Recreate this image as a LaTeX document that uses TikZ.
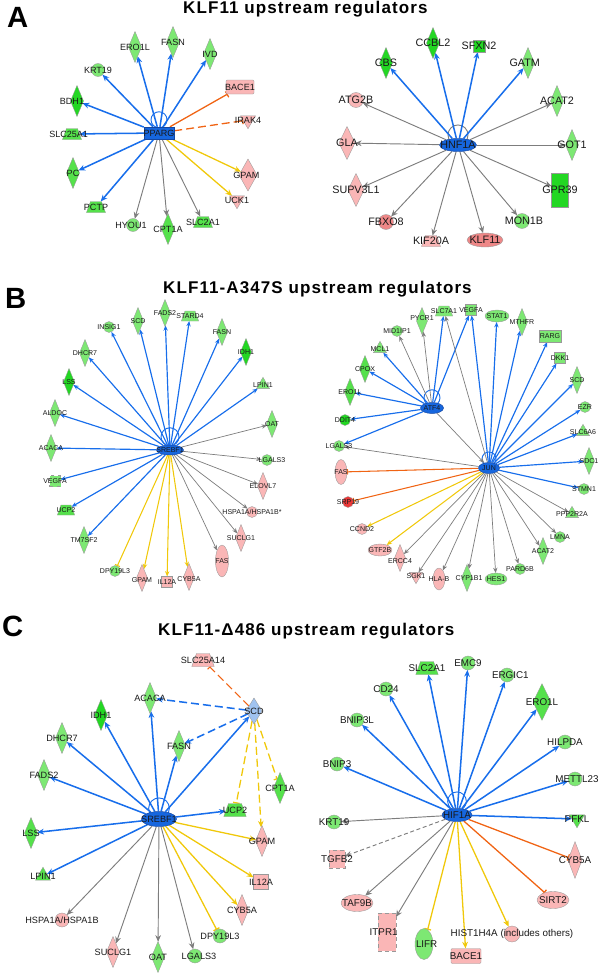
\documentclass[tikz,border=0pt]{standalone}
\usepackage{fontspec}
\setmainfont{Liberation Sans}
\newfontfamily\headfont[LetterSpace=6.5]{Liberation Sans}
\usetikzlibrary{arrows.meta, backgrounds, shapes.geometric, shapes.misc}
\definecolor{hubfill}{RGB}{22,102,222}
\definecolor{hubline}{RGB}{20,70,160}
\definecolor{actblue}{RGB}{24,110,235}
\definecolor{edgegray}{RGB}{125,125,125}
\definecolor{inhorange}{RGB}{240,100,20}
\definecolor{predyellow}{RGB}{240,200,10}
\definecolor{upgreen}{RGB}{125,232,115}
\definecolor{midgreen}{RGB}{85,225,75}
\definecolor{deepgreen}{RGB}{35,215,35}
\definecolor{downpink}{RGB}{250,182,182}
\definecolor{salmonpink}{RGB}{238,135,135}
\definecolor{downred}{RGB}{235,55,55}
\definecolor{paleblue}{RGB}{160,195,240}
\tikzset{
    gene/.style={draw=black!40, line width=0.3pt, inner sep=0pt, outer sep=0pt},
    dia/.style={gene, diamond, minimum width=3.9mm, minimum height=9.3mm},
    circ/.style={gene, circle, minimum size=3.9mm},
    oval/.style={gene, ellipse},
    trap/.style={gene, trapezium, inner sep=0.5pt, trapezium left angle=70, trapezium right angle=70,
        minimum width=3.9mm, minimum height=3.3mm},
    tri/.style={gene, isosceles triangle, inner sep=0.5pt, isosceles triangle apex angle=60,
        shape border rotate=90, minimum size=3.9mm},
    invtri/.style={tri, shape border rotate=270},
    box/.style={gene, rectangle, minimum size=3.6mm},
    dbox/.style={box, dashed},
    hexa/.style={gene, chamfered rectangle, inner sep=0.5pt, chamfered rectangle xsep=1.4mm,
        minimum width=8.4mm, minimum height=4.2mm},
    hub/.style={draw=hubline, line width=0.4pt, fill=hubfill, inner sep=0pt},
    headtip/.style={-{Stealth[length=2mm, width=1.7mm]}},
    bartip/.style={-{Bar[width=2mm]}},
    act/.style={draw=actblue, line width=1.3pt, headtip},
    neu/.style={draw=edgegray, line width=0.8pt, headtip},
    pred/.style={draw=predyellow, line width=1.1pt, headtip},
    predbar/.style={draw=predyellow, line width=1.1pt, bartip},
    inh/.style={draw=inhorange, line width=1.1pt, bartip},
    selfloop/.style={draw=actblue, line width=0.8pt},
    longdash/.style={dash pattern=on 2.4mm off 1.2mm},
    panelletter/.style={font=\bfseries\fontsize{25}{28}\selectfont, anchor=base west, inner sep=0pt},
    paneltitle/.style={font=\headfont\bfseries\fontsize{14.5}{17}\selectfont, anchor=base west, inner sep=0pt},
    every label/.style={inner sep=0pt, text=black!90}
}
\newcommand{\lblA}{\fontsize{7.7}{8}\selectfont}
\newcommand{\lblAR}{\fontsize{9.2}{10}\selectfont}
\newcommand{\lblB}{\fontsize{6}{7}\selectfont}
\newcommand{\lblC}{\fontsize{7.8}{9}\selectfont}
\newcommand{\lblCR}{\fontsize{8.4}{9}\selectfont}

\begin{document}
\begin{tikzpicture}[x=0.03cm, y=-0.03cm]
    \useasboundingbox (0,0) rectangle (600,977);

    % Panel A : KLF11
    \node[panelletter] (letA) at (7,27) {A};
    \node[paneltitle] (headA) at (183,13) {KLF11 upstream regulators};

    \begin{scope}[every label/.append style={font=\lblA}]
        % A left : PPARG
        \node[hub, rectangle, minimum width=9mm, minimum height=3.6mm, label={center:PPARG}] (al-pparg) at (159,133) {};
        \node[dia, fill=upgreen, label={center:ERO1L}] (al-ero1l) at (135,47) {};
        \node[dia, fill=upgreen, label={center:FASN}] (al-fasn) at (173,42) {};
        \node[dia, fill=upgreen, label={center:IVD}] (al-ivd) at (210,54) {};
        \node[circ, fill=upgreen, label={center:KRT19}] (al-krt19) at (98,70) {};
        \node[dia, fill=deepgreen, label={[xshift=-1.5mm]center:BDH1}] (al-bdh1) at (77,101) {};
        \node[trap, fill=midgreen, label={[xshift=-1mm]center:SLC25A1}] (al-slc25a1) at (72,134) {};
        \node[dia, fill=midgreen, label={center:PC}] (al-pc) at (73,173) {};
        \node[trap, fill=midgreen, label={center:PCTP}] (al-pctp) at (96,207) {};
        \node[circ, fill=upgreen, label={[xshift=-0.6mm]center:HYOU1}] (al-hyou1) at (133,225) {};
        \node[dia, fill=midgreen, label={center:CPT1A}] (al-cpt1a) at (168,229) {};
        \node[trap, fill=midgreen, label={center:SLC2A1}] (al-slc2a1) at (203,222) {};
        \node[hexa, fill=downpink, label={center:BACE1}] (al-bace1) at (240,87) {};
        \node[invtri, fill=downpink, label={center:IRAK4}] (al-irak4) at (248,120) {};
        \node[dia, fill=downpink, minimum width=5.4mm, minimum height=9.6mm, label={[xshift=-0.5mm]center:GPAM}] (al-gpam) at (248,175) {};
        \node[invtri, fill=downpink, label={center:UCK1}] (al-uck1) at (237,200) {};

        \begin{scope}[on background layer]
            \draw[selfloop] ([yshift=2.1mm]al-pparg.north) circle[radius=2.4mm];
            \foreach \g in {ero1l,fasn,ivd,krt19,bdh1,slc25a1,pc,pctp}
                \draw[act] (al-pparg) -- (al-\g);
            \foreach \g in {hyou1,cpt1a,slc2a1}
                \draw[neu] (al-pparg) -- (al-\g);
            \foreach \g in {gpam,uck1}
                \draw[pred] (al-pparg) -- (al-\g);
            \draw[inh] (al-pparg) -- (al-bace1);
            \draw[inh, longdash] (al-pparg) -- (al-irak4);
        \end{scope}
    \end{scope}

    \begin{scope}[every label/.append style={font=\lblAR}]
        % A right : HNF1A
        \node[hub, ellipse, minimum width=11.1mm, minimum height=3.9mm, label={center:HNF1A}] (ar-hnf1a) at (458,145) {};
        \node[dia, fill=deepgreen, label={center:CCBL2}] (ar-ccbl2) at (433,43) {};
        \node[box, fill=deepgreen, label={center:SFXN2}] (ar-sfxn2) at (479,46) {};
        \node[dia, fill=deepgreen, label={center:CBS}] (ar-cbs) at (386,63) {};
        \node[dia, fill=upgreen, label={[xshift=-1mm]center:GATM}] (ar-gatm) at (528,63) {};
        \node[circ, fill=downpink, minimum size=4.5mm, label={center:ATG2B}] (ar-atg2b) at (356,100) {};
        \node[dia, fill=upgreen, label={center:ACAT2}] (ar-acat2) at (557,101) {};
        \node[dia, fill=downpink, minimum width=4.8mm, minimum height=9.9mm, label={center:GLA}] (ar-gla) at (347,143) {};
        \node[dia, fill=upgreen, label={center:GOT1}] (ar-got1) at (572,145) {};
        \node[dia, fill=downpink, minimum width=4.8mm, minimum height=9.9mm, label={center:SUPV3L1}] (ar-supv3l1) at (356,190) {};
        \node[box, fill=deepgreen, minimum width=5.1mm, minimum height=10.2mm, label={center:GPR39}] (ar-gpr39) at (560,190) {};
        \node[circ, fill=salmonpink, minimum size=4.5mm, label={center:FBXO8}] (ar-fbxo8) at (386,222) {};
        \node[circ, fill=upgreen, minimum size=4.5mm, label={[xshift=0.6mm]center:MON1B}] (ar-mon1b) at (522,221) {};
        \node[trap, fill=downpink, label={center:KIF20A}] (ar-kif20a) at (431,241) {};
        \node[oval, fill=salmonpink, minimum width=10.8mm, minimum height=4.2mm, label={center:KLF11}] (ar-klf11) at (485,240) {};

        \begin{scope}[on background layer]
            \draw[selfloop, draw=edgegray] ([yshift=1mm]ar-hnf1a.north) circle[radius=3mm];
            \foreach \g in {cbs,ccbl2,sfxn2,gatm}
                \draw[act] (ar-hnf1a) -- (ar-\g);
            \foreach \g in {atg2b,gla,supv3l1,fbxo8,kif20a,klf11,mon1b,gpr39,got1,acat2}
                \draw[neu] (ar-hnf1a) -- (ar-\g);
        \end{scope}
    \end{scope}

    % Panel B : KLF11-A347S
    \node[panelletter] (letB) at (5,308) {B};
    \node[paneltitle] (headB) at (163,293) {KLF11-A347S upstream regulators};

    \begin{scope}[every label/.append style={font=\lblB},
        dia/.append style={minimum width=3.3mm, minimum height=8.1mm},
        circ/.append style={minimum size=3.3mm},
        box/.append style={minimum size=3.3mm},
        trap/.append style={minimum width=3.3mm, minimum height=3mm},
        tri/.append style={minimum size=3.4mm},
        headtip/.style={-{Stealth[length=1.6mm, width=1.3mm]}},
        bartip/.style={-{Bar[width=1.6mm]}},
        act/.append style={line width=1pt},
        neu/.append style={line width=0.6pt},
        pred/.append style={line width=0.9pt},
        predbar/.append style={line width=0.9pt},
        inh/.append style={line width=0.9pt}]

        % B left : SREBF1
        \node[hub, ellipse, minimum width=8.1mm, minimum height=3mm, label={center:SREBF1}] (bl-srebf1) at (170,450) {};
        \node[circ, fill=upgreen, label={center:INSIG1}] (bl-insig1) at (109,327) {};
        \node[dia, fill=upgreen, label={center:SCD}] (bl-scd) at (138,321) {};
        \node[dia, fill=upgreen, label={center:FADS2}] (bl-fads2) at (165,313) {};
        \node[trap, fill=upgreen, label={center:STARD4}] (bl-stard4) at (190,316) {};
        \node[dia, fill=upgreen, label={center:FASN}] (bl-fasn) at (222,332) {};
        \node[dia, fill=deepgreen, label={center:IDH1}] (bl-idh1) at (246,352) {};
        \node[dia, fill=upgreen, label={center:DHCR7}] (bl-dhcr7) at (85,353) {};
        \node[dia, fill=deepgreen, label={center:LSS}] (bl-lss) at (69,382) {};
        \node[tri, fill=upgreen, label={center:LPIN1}] (bl-lpin1) at (263,385) {};
        \node[dia, fill=upgreen, label={center:ALDOC}] (bl-aldoc) at (55,413) {};
        \node[dia, fill=upgreen, label={center:OAT}] (bl-oat) at (272,424) {};
        \node[dia, fill=upgreen, label={center:ACACA}] (bl-acaca) at (51,448) {};
        \node[circ, fill=upgreen, label={[xshift=1.5mm]center:LGALS3}] (bl-lgals3) at (267,460) {};
        \node[dbox, fill=upgreen, label={center:VEGFA}] (bl-vegfa) at (55,481) {};
        \node[dia, fill=downpink, label={center:ELOVL7}] (bl-elovl7) at (263,486) {};
        \node[trap, fill=midgreen, label={center:UCP2}] (bl-ucp2) at (66,510) {};
        \node[circ, fill=downpink, label={center:HSPA1A/HSPA1B*}] (bl-hspa) at (252,512) {};
        \node[dia, fill=upgreen, label={center:TM7SF2}] (bl-tm7sf2) at (84,540) {};
        \node[dia, fill=downpink, label={center:SUCLG1}] (bl-suclg1) at (241,538) {};
        \node[oval, fill=downpink, minimum width=3.9mm, minimum height=9.6mm, label={center:FAS}] (bl-fas) at (222,561) {};
        \node[circ, fill=upgreen, label={center:DPY19L3}] (bl-dpy19l3) at (115,571) {};
        \node[dia, fill=downpink, label={[yshift=-0.5mm]center:GPAM}] (bl-gpam) at (142,578) {};
        \node[box, fill=downpink, label={center:IL12A}] (bl-il12a) at (167,582) {};
        \node[dia, fill=downpink, label={[yshift=-0.5mm]center:CYB5A}] (bl-cyb5a) at (189,577) {};

        \begin{scope}[on background layer]
            \draw[selfloop] ([yshift=2.4mm]bl-srebf1.north) circle[radius=2.7mm];
            \foreach \g in {insig1,scd,fads2,stard4,fasn,idh1,dhcr7,lss,lpin1,aldoc,acaca,vegfa,ucp2,tm7sf2}
                \draw[act] (bl-srebf1) -- (bl-\g);
            \foreach \g in {oat,lgals3,elovl7,hspa,suclg1,fas}
                \draw[neu] (bl-srebf1) -- (bl-\g);
            \foreach \g in {gpam,il12a,cyb5a}
                \draw[pred] (bl-srebf1) -- (bl-\g);
            \draw[predbar] (bl-srebf1) -- (bl-dpy19l3);
        \end{scope}

        % B right : ATF4 and JUN
        \node[hub, ellipse, minimum width=6.9mm, minimum height=3.3mm, label={center:ATF4}] (br-atf4) at (432,408) {};
        \node[hub, ellipse, minimum width=6.3mm, minimum height=3.3mm, label={center:JUN}] (br-jun) at (489,468) {};
        \node[dia, fill=upgreen, label={[yshift=0.8mm]center:PYCR1}] (br-pycr1) at (422,321) {};
        \node[trap, fill=upgreen, label={center:SLC7A1}] (br-slc7a1) at (444,311) {};
        \node[box, fill=upgreen, label={center:VEGFA}] (br-vegfa) at (471,310) {};
        \node[oval, fill=upgreen, minimum width=7.2mm, minimum height=3.6mm, label={center:STAT1}] (br-stat1) at (497,316) {};
        \node[dia, fill=upgreen, label={center:MTHFR}] (br-mthfr) at (522,322) {};
        \node[circ, fill=upgreen, label={center:MID1IP1}] (br-mid1ip1) at (397,331) {};
        \node[box, fill=upgreen, minimum width=6.6mm, minimum height=3.6mm, label={center:RARG}] (br-rarg) at (550,336) {};
        \node[tri, fill=upgreen, label={center:MCL1}] (br-mcl1) at (380,349) {};
        \node[box, fill=upgreen, label={center:DKK1}] (br-dkk1) at (560,358) {};
        \node[dia, fill=midgreen, label={center:CPOX}] (br-cpox) at (365,369) {};
        \node[dia, fill=upgreen, label={center:SCD}] (br-scd) at (577,380) {};
        \node[dia, fill=midgreen, label={center:ERO1L}] (br-ero1l) at (350,392) {};
        \node[circ, fill=upgreen, label={center:EZR}] (br-ezr) at (585,407) {};
        \node[circ, fill=deepgreen, label={center:DDIT4}] (br-ddit4) at (345,420) {};
        \node[tri, fill=upgreen, label={center:SLC6A6}] (br-slc6a6) at (583,432) {};
        \node[circ, fill=upgreen, label={center:LGALS3}] (br-lgals3) at (339,446) {};
        \node[dia, fill=upgreen, label={center:SDC1}] (br-sdc1) at (589,461) {};
        \node[oval, fill=downpink, minimum width=3.6mm, minimum height=7.5mm, label={center:FAS}] (br-fas) at (341,472) {};
        \node[circ, fill=upgreen, label={center:STMN1}] (br-stmn1) at (584,489) {};
        \node[circ, fill=downred, label={center:SRP19}] (br-srp19) at (348,502) {};
        \node[tri, fill=upgreen, label={center:PPP2R2A}] (br-ppp2r2a) at (572,514) {};
        \node[circ, fill=downpink, label={center:CCND2}] (br-ccnd2) at (362,529) {};
        \node[circ, fill=upgreen, label={center:LMNA}] (br-lmna) at (560,537) {};
        \node[oval, fill=downpink, minimum width=7.2mm, minimum height=3.6mm, label={center:GTF2B}] (br-gtf2b) at (380,550) {};
        \node[dia, fill=upgreen, label={center:ACAT2}] (br-acat2) at (543,551) {};
        \node[dia, fill=downpink, label={[yshift=-0.8mm]center:ERCC4}] (br-ercc4) at (400,558) {};
        \node[invtri, fill=downpink, label={center:SGK1}] (br-sgk1) at (416,576) {};
        \node[oval, fill=downpink, minimum width=3.6mm, minimum height=6.6mm, label={center:HLA-B}] (br-hlab) at (439,579) {};
        \node[dia, fill=upgreen, label={[xshift=0.6mm]center:CYP1B1}] (br-cyp1b1) at (467,578) {};
        \node[oval, fill=upgreen, minimum width=6.6mm, minimum height=3.6mm, label={center:HES1}] (br-hes1) at (496,579) {};
        \node[circ, fill=upgreen, label={center:PARD6B}] (br-pard6b) at (520,569) {};

        \begin{scope}[on background layer]
            \draw[selfloop] ([yshift=1.35mm]br-atf4.north) circle[radius=2.4mm];
            \draw[selfloop] ([yshift=1mm]br-jun.north) circle[radius=2.1mm];
            \foreach \g in {mcl1,cpox,ero1l,ddit4,lgals3,slc7a1,vegfa}
                \draw[act] (br-atf4) -- (br-\g);
            \foreach \g in {mid1ip1,pycr1,jun}
                \draw[neu] (br-atf4) -- (br-\g);
            \foreach \g in {vegfa,stat1,mthfr,rarg,dkk1,scd,ezr,slc6a6,sdc1,stmn1}
                \draw[act] (br-jun) -- (br-\g);
            \foreach \g in {slc7a1,lgals3,ppp2r2a,lmna,acat2,pard6b,hes1,cyp1b1,hlab,sgk1,ercc4}
                \draw[neu] (br-jun) -- (br-\g);
            \foreach \g in {fas,srp19}
                \draw[inh] (br-jun) -- (br-\g);
            \foreach \g in {ccnd2,gtf2b}
                \draw[pred] (br-jun) -- (br-\g);
        \end{scope}
    \end{scope}

    % Panel C : KLF11-delta486
    \node[panelletter] (letC) at (2,636) {C};
    \node[paneltitle] (headC) at (158,635) {KLF11-Δ486 upstream regulators};

    \begin{scope}[every label/.append style={font=\lblC},
        circ/.append style={minimum size=4.2mm},
        trap/.append style={minimum width=4.2mm, minimum height=3.9mm}]

        % C left : SREBF1 and SCD
        \node[hub, ellipse, minimum width=10.5mm, minimum height=4.5mm, label={center:SREBF1}] (cl-srebf1) at (159,819) {};
        \node[trap, fill=downpink, label={center:SLC25A14}] (cl-slc25a14) at (203,660) {};
        \node[dia, fill=paleblue, minimum width=4.8mm, minimum height=7.8mm, label={center:SCD}] (cl-scd) at (254,711) {};
        \node[dia, fill=upgreen, label={center:ACACA}] (cl-acaca) at (150,698) {};
        \node[dia, fill=deepgreen, label={center:IDH1}] (cl-idh1) at (101,715) {};
        \node[dia, fill=upgreen, label={center:DHCR7}] (cl-dhcr7) at (62,738) {};
        \node[dia, fill=upgreen, label={center:FASN}] (cl-fasn) at (179,746) {};
        \node[dia, fill=upgreen, label={center:FADS2}] (cl-fads2) at (44,775) {};
        \node[dia, fill=midgreen, label={center:CPT1A}] (cl-cpt1a) at (280,788) {};
        \node[trap, fill=midgreen, label={center:UCP2}] (cl-ucp2) at (235,810) {};
        \node[dia, fill=midgreen, label={center:LSS}] (cl-lss) at (31,833) {};
        \node[dia, fill=downpink, label={center:GPAM}] (cl-gpam) at (262,841) {};
        \node[tri, fill=midgreen, label={center:LPIN1}] (cl-lpin1) at (43,876) {};
        \node[box, fill=downpink, minimum size=4.5mm, label={center:IL12A}] (cl-il12a) at (261,882) {};
        \node[circ, fill=downpink, label={center:HSPA1A/HSPA1B}] (cl-hspa) at (62,920) {};
        \node[dia, fill=downpink, label={center:CYB5A}] (cl-cyb5a) at (242,910) {};
        \node[circ, fill=upgreen, label={center:DPY19L3}] (cl-dpy19l3) at (220,936) {};
        \node[dia, fill=downpink, label={center:SUCLG1}] (cl-suclg1) at (113,952) {};
        \node[dia, fill=upgreen, label={center:OAT}] (cl-oat) at (158,957) {};
        \node[circ, fill=upgreen, label={[xshift=1.2mm]center:LGALS3}] (cl-lgals3) at (195,956) {};

        \begin{scope}[on background layer]
            \draw[selfloop] ([yshift=0.9mm]cl-srebf1.north) circle[radius=3.1mm];
            \foreach \g in {acaca,idh1,dhcr7,fasn,fads2,lss,lpin1,ucp2,scd}
                \draw[act] (cl-srebf1) -- (cl-\g);
            \foreach \g in {acaca,fasn}
                \draw[act, longdash] (cl-scd) -- (cl-\g);
            \draw[inh, longdash, line width=0.9pt] (cl-scd) -- (cl-slc25a14);
            \draw[predbar, longdash] (cl-scd) -- (cl-ucp2);
            \draw[pred, longdash] (cl-scd) -- (cl-gpam);
            \draw[predbar, longdash] (cl-scd) -- (cl-cpt1a);
            \foreach \g in {gpam,il12a,cyb5a}
                \draw[pred] (cl-srebf1) -- (cl-\g);
            \draw[predbar] (cl-srebf1) -- (cl-dpy19l3);
            \foreach \g in {hspa,suclg1,oat,lgals3}
                \draw[neu] (cl-srebf1) -- (cl-\g);
        \end{scope}
    \end{scope}

    \begin{scope}[every label/.append style={font=\lblCR},
        circ/.append style={minimum size=4.2mm},
        trap/.append style={minimum width=4.2mm, minimum height=3.9mm}]
        % C right : HIF1A
        \node[hub, ellipse, minimum width=9mm, minimum height=3.9mm, label={center:HIF1A}] (cr-hif1a) at (457,815) {};
        \node[trap, fill=midgreen, label={center:SLC2A1}] (cr-slc2a1) at (427,668) {};
        \node[circ, fill=upgreen, label={center:EMC9}] (cr-emc9) at (468,663) {};
        \node[circ, fill=upgreen, label={[xshift=1mm]center:ERGIC1}] (cr-ergic1) at (507,675) {};
        \node[circ, fill=upgreen, label={center:CD24}] (cr-cd24) at (386,689) {};
        \node[dia, fill=midgreen, minimum width=5.4mm, minimum height=11mm, label={center:ERO1L}] (cr-ero1l) at (542,702) {};
        \node[circ, fill=upgreen, label={center:BNIP3L}] (cr-bnip3l) at (357,720) {};
        \node[circ, fill=upgreen, label={center:HILPDA}] (cr-hilpda) at (565,742) {};
        \node[circ, fill=upgreen, label={center:BNIP3}] (cr-bnip3) at (337,764) {};
        \node[circ, fill=upgreen, label={[xshift=0.6mm]center:METTL23}] (cr-mettl23) at (575,779) {};
        \node[circ, fill=upgreen, label={center:KRT19}] (cr-krt19) at (334,822) {};
        \node[invtri, fill=midgreen, label={center:PFKL}] (cr-pfkl) at (577,819) {};
        \node[dbox, fill=downpink, minimum width=4.8mm, minimum height=5.4mm, label={center:TGFB2}] (cr-tgfb2) at (337,859) {};
        \node[dia, fill=downpink, minimum width=4.2mm, minimum height=11mm, label={center:CYB5A}] (cr-cyb5a) at (575,860) {};
        \node[oval, fill=downpink, minimum width=9.6mm, minimum height=5.1mm, label={center:TAF9B}] (cr-taf9b) at (357,903) {};
        \node[oval, fill=downpink, minimum width=9.6mm, minimum height=5.1mm, label={center:SIRT2}] (cr-sirt2) at (553,900) {};
        \node[dbox, fill=downpink, minimum width=5.4mm, minimum height=11.4mm, label={[xshift=-1mm]center:ITPR1}] (cr-itpr1) at (387,932) {};
        \node[oval, fill=upgreen, minimum width=5.4mm, minimum height=9.3mm, label={[xshift=0.8mm]center:LIFR}] (cr-lifr) at (424,944) {};
        \node[circ, fill=downpink, minimum size=4.8mm, label={center:HIST1H4A (includes others)}] (cr-hist) at (512,934) {};
        \node[hexa, fill=downpink, minimum width=9mm, minimum height=4.5mm, label={center:BACE1}] (cr-bace1) at (466,956) {};

        \begin{scope}[on background layer]
            \draw[selfloop] ([yshift=2.1mm]cr-hif1a.north) circle[radius=2.8mm];
            \foreach \g in {slc2a1,emc9,ergic1,cd24,ero1l,bnip3l,hilpda,bnip3,mettl23,pfkl}
                \draw[act] (cr-hif1a) -- (cr-\g);
            \foreach \g in {krt19,taf9b,itpr1}
                \draw[neu] (cr-hif1a) -- (cr-\g);
            \draw[neu, dash pattern=on 1.2mm off 0.8mm] (cr-hif1a) -- (cr-tgfb2);
            \draw[predbar] (cr-hif1a) -- (cr-lifr);
            \foreach \g in {bace1,hist}
                \draw[pred] (cr-hif1a) -- (cr-\g);
            \foreach \g in {cyb5a,sirt2}
                \draw[inh] (cr-hif1a) -- (cr-\g);
        \end{scope}
    \end{scope}
\end{tikzpicture}
\end{document}
